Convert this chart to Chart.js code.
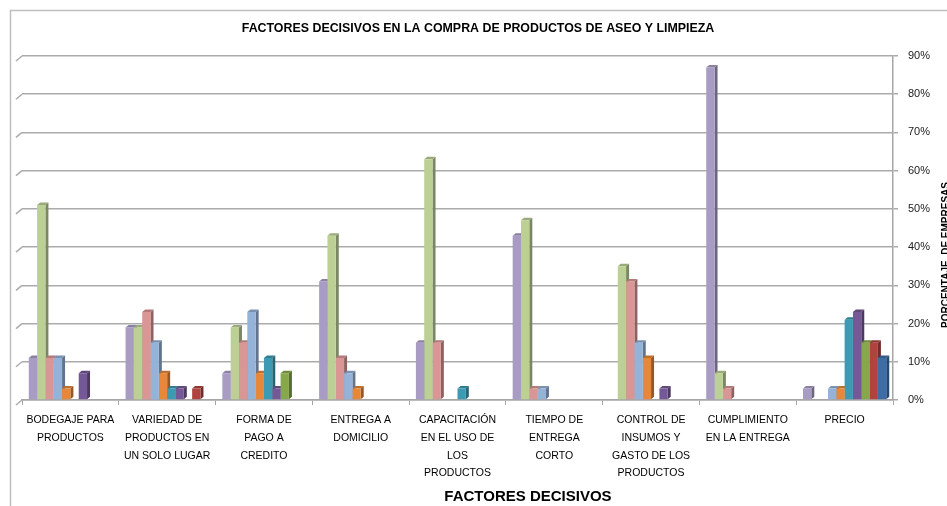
<!DOCTYPE html>
<html>
<head>
<meta charset="utf-8">
<script src="https://cdn.jsdelivr.net/npm/chart.js@4.4.1/dist/chart.umd.min.js"></script>
<style>
  html, body { margin:0; padding:0; background:#fff; }
  #wrap { width:947px; height:506px; }
</style>
</head>
<body>
<div id="wrap"><canvas id="chart" width="947" height="506"></canvas></div>
<script>
// categorias (factores decisivos)
const categorias = [
    ["BODEGAJE PARA","PRODUCTOS"],
    ["VARIEDAD DE","PRODUCTOS EN","UN SOLO LUGAR"],
    ["FORMA DE","PAGO A","CREDITO"],
    ["ENTREGA A","DOMICILIO"],
    ["CAPACITACIÓN","EN EL USO DE","LOS","PRODUCTOS"],
    ["TIEMPO DE","ENTREGA","CORTO"],
    ["CONTROL DE","INSUMOS Y","GASTO DE LOS","PRODUCTOS"],
    ["CUMPLIMIENTO","EN LA ENTREGA"],
    ["PRECIO"]
];

// porcentaje de empresas por serie
const serie1  = [11, 19,  7, 31, 15, 43,  0, 87,  3];
const serie2  = [51, 19, 19, 43, 63, 47, 35,  7,  0];
const serie3  = [11, 23, 15, 11, 15,  3, 31,  3,  0];
const serie4  = [11, 15, 23,  7,  0,  3, 15,  0,  3];
const serie5  = [ 3,  7,  7,  3,  0,  0, 11,  0,  3];
const serie6  = [ 0,  3, 11,  0,  3,  0,  0,  0, 21];
const serie7  = [ 7,  3,  3,  0,  0,  0,  3,  0, 23];
const serie8  = [ 0,  0,  7,  0,  0,  0,  0,  0, 15];
const serie9  = [ 0,  3,  0,  0,  0,  0,  0,  0, 15];
const serie10 = [ 0,  0,  0,  0,  0,  0,  0,  0, 11];

const series = [serie1, serie2, serie3, serie4, serie5, serie6, serie7, serie8, serie9, serie10];
const colores = ["#A99CC4","#BCD096","#D99694","#95B2D8","#E6873A","#3C9AB2","#755896","#87A84A","#B0433F","#3E6DA6"];

const yTicks = [0,10,20,30,40,50,60,70,80,90];

const DX = 3, DY = 2.5;

function shade(hex, f){
    let r = parseInt(hex.slice(1,3),16), g = parseInt(hex.slice(3,5),16), b = parseInt(hex.slice(5,7),16);
    r = Math.round(r*(1+f)); g = Math.round(g*(1+f)); b = Math.round(b*(1+f));
    return "rgb("+r+","+g+","+b+")";
}

// caras laterales y superiores (efecto 3D), dibujadas antes de las caras frontales
const bar3d = {
    id:"bar3d",
    beforeDatasetsDraw(chart){
        const ctx = chart.ctx;
        chart.data.datasets.forEach((ds,k)=>{
            const meta = chart.getDatasetMeta(k);
            meta.data.forEach((bar,i)=>{
                if(!ds.data[i]) return;
                const p = bar.getProps(["x","y","base","width"], true);
                const l = p.x - p.width/2, r = p.x + p.width/2;
                ctx.save();
                ctx.fillStyle = shade(ds.backgroundColor, -0.35);
                ctx.beginPath();
                ctx.moveTo(r, p.y); ctx.lineTo(r+DX, p.y-DY); ctx.lineTo(r+DX, p.base-DY); ctx.lineTo(r, p.base);
                ctx.closePath(); ctx.fill();
                ctx.fillStyle = shade(ds.backgroundColor, -0.18);
                ctx.beginPath();
                ctx.moveTo(l, p.y); ctx.lineTo(l+DX, p.y-DY); ctx.lineTo(r+DX, p.y-DY); ctx.lineTo(r, p.y);
                ctx.closePath(); ctx.fill();
                ctx.restore();
            });
        });
    }
};

// marco, lineas de pared y textos
const decor = {
    id:"decor",
    beforeDraw(chart){
        const ctx = chart.ctx;
        ctx.save();
        ctx.fillStyle = "#fff";
        ctx.fillRect(0,0,chart.width,chart.height);
        ctx.strokeStyle = "#BFBFBF";
        ctx.lineWidth = 1.5;
        ctx.beginPath();
        ctx.moveTo(10.5, chart.height); ctx.lineTo(10.5, 10.5); ctx.lineTo(chart.width, 10.5);
        ctx.stroke();
        ctx.restore();
    },
    beforeDatasetsDraw(chart){
        const ctx = chart.ctx, ys = chart.scales.y, a = chart.chartArea;
        ctx.save();
        ctx.strokeStyle = "#ABABAB";
        ctx.lineWidth = 1.5;
        yTicks.forEach(v=>{
            const y = ys.getPixelForValue(v);
            ctx.beginPath();
            ctx.moveTo(a.left-6, y+5); ctx.lineTo(a.left, y);
            ctx.stroke();
        });
        ctx.restore();
    },
    afterDraw(chart){
        const ctx = chart.ctx;
        ctx.save();
        ctx.fillStyle = "#000";
        ctx.textAlign = "center";
        ctx.textBaseline = "middle";
        ctx.font = "bold 12.4px 'Liberation Sans', Arial, sans-serif";
        ctx.fillText("FACTORES DECISIVOS EN LA COMPRA DE PRODUCTOS DE ASEO Y LIMPIEZA", 478, 29);
        ctx.font = "bold 15px 'Liberation Sans', Arial, sans-serif";
        ctx.fillText("FACTORES DECISIVOS", 528, 497);
        ctx.translate(946, 255);
        ctx.rotate(-Math.PI/2);
        ctx.font = "bold 10px 'Liberation Sans', Arial, sans-serif";
        ctx.fillText("PORCENTAJE  DE EMPRESAS", 0, 0);
        ctx.restore();
    }
};

new Chart(document.getElementById("chart"), {
    type:"bar",
    data:{
        labels:categorias,
        datasets:series.map((s,i)=>({
            label:"Serie "+(i+1),
            data:s,
            backgroundColor:colores[i],
            borderWidth:0,
            barPercentage:1.0,
            categoryPercentage:0.86
        }))
    },
    options:{
        responsive:false,
        animation:false,
        devicePixelRatio:1,
        layout:{ padding:{ left:22, right:0, top:56, bottom:0 } },
        plugins:{
            legend:{ display:false },
            title:{ display:false },
            tooltip:{ enabled:false }
        },
        scales:{
            x:{
                grid:{ drawOnChartArea:false, drawTicks:true, tickLength:5, color:"#A6A6A6", offset:true },
                border:{ display:true, color:"#A6A6A6", width:1.5 },
                ticks:{
                    color:"#000",
                    maxRotation:0,
                    autoSkip:false,
                    padding:6,
                    font:{ family:"'Liberation Sans', Arial, sans-serif", size:10.5, lineHeight:1.7 }
                },
                afterFit(scale){ scale.height = 106; }
            },
            y:{
                position:"right",
                min:0,
                max:90,
                afterBuildTicks(scale){ scale.ticks = yTicks.map(v=>({value:v})); },
                grid:{ color:"#ABABAB", lineWidth:1.5, drawTicks:true, tickLength:5 },
                border:{ display:true, color:"#A6A6A6", width:1.5 },
                ticks:{
                    color:"#222",
                    padding:10,
                    callback:(v)=>v+"%",
                    font:{ family:"'Liberation Sans', Arial, sans-serif", size:11 }
                },
                afterFit(scale){ scale.width = 54; }
            }
        }
    },
    plugins:[bar3d, decor]
});
</script>
</body>
</html>
